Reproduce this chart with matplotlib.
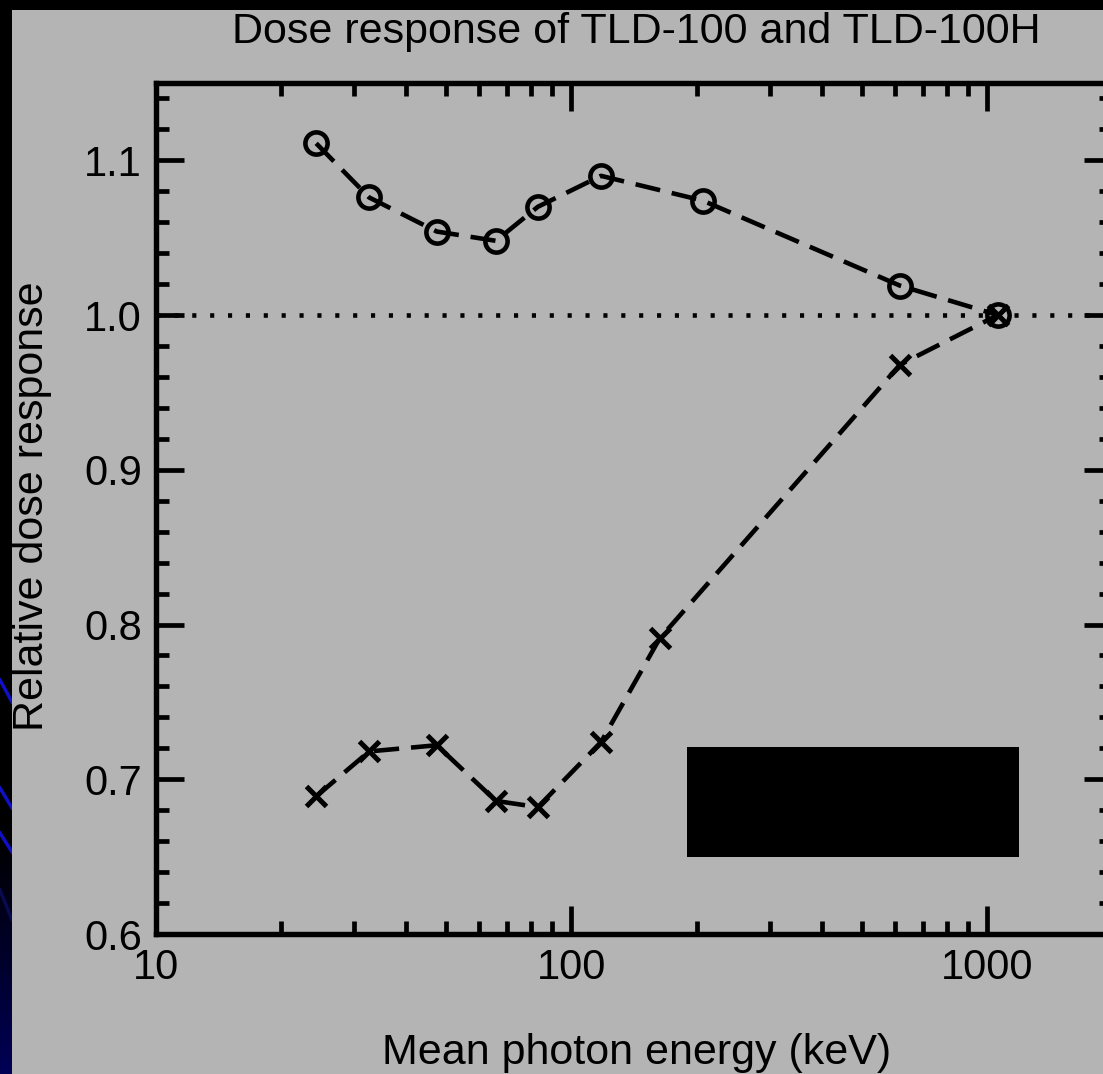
import matplotlib
matplotlib.use("Agg")
import matplotlib.pyplot as plt
import numpy as np
from matplotlib.patches import Rectangle
from matplotlib.ticker import FixedLocator, FixedFormatter, MultipleLocator, LogLocator, NullFormatter

# ---------------- data ----------------
title = "Dose response of TLD-100 and TLD-100H"
xlabel = "Mean photon energy (keV)"
ylabel = "Relative dose response"

energy_100h = [24.3, 32.6, 47.4, 65.8, 83.0, 117.8, 207.0, 618.0, 1062.0]
resp_100h = [1.111, 1.076, 1.054, 1.048, 1.070, 1.090, 1.074, 1.019, 1.000]

energy_100 = [24.3, 32.6, 47.4, 65.8, 83.0, 117.8, 163.0, 618.0, 1062.0]
resp_100 = [0.689, 0.718, 0.722, 0.686, 0.682, 0.724, 0.791, 0.968, 1.000]

reference_level = 1.0

xticks = [10, 100, 1000]
xticklabels = ["10", "100", "1000"]
yticks = [0.6, 0.7, 0.8, 0.9, 1.0, 1.1]
yticklabels = ["0.6", "0.7", "0.8", "0.9", "1.0", "1.1"]

# ---------------- style ----------------
W, H, DPI = 1103, 1074, 100
GRAY = "#b4b4b4"
FONT = "Liberation Sans"
FS = 31
TFS = 30

plt.rcParams["font.family"] = [FONT, "DejaVu Sans"]

fig = plt.figure(figsize=(W / DPI, H / DPI), dpi=DPI, facecolor="black")

# gray slide panel (as a background axes so it sits underneath)
bg = fig.add_axes([12 / W, 0, 1 - 12 / W, 1 - 10 / H], zorder=-10)
bg.set_facecolor(GRAY)
bg.set_xticks([])
bg.set_yticks([])
for s in bg.spines.values():
    s.set_visible(False)

# left strip: dark gradient + blue decorative lines
strip = fig.add_axes([0, 0, 12 / W, 1 - 10 / H], zorder=-9)
grad = np.zeros((200, 2, 3))
t = np.linspace(0, 1, 200)[:, None]
grad[:, :, 2] = np.clip((t - 0.78) / 0.22, 0, 1) * 0.33
strip.imshow(grad, aspect="auto", extent=[0, 12, 1064, 0], origin="upper")
for (y0, y1, c) in [(670, 692, "#1010c8"), (778, 798, "#1010c8"),
                    (823, 842, "#1010c8"), (880, 910, "#0a0a50")]:
    strip.plot([0, 12], [y0, y1], color=c, lw=2.5)
strip.set_xlim(0, 12)
strip.set_ylim(1064, 0)
strip.axis("off")

# main axes
ax = fig.add_axes([156 / W, (H - 934) / H, 956 / W, 851 / H], zorder=1)
ax.set_facecolor("none")
ax.set_xscale("log")
ax.set_xlim(10, 2000)
ax.set_ylim(0.6, 1.15)

LW = 3.3
# reference dotted line
ax.axhline(reference_level, color="black", lw=LW, linestyle=(0, (0.9, 3.0)),
           dash_capstyle="butt", zorder=2)

dash = (0, (5.5, 2.6))
ax.plot(energy_100h, resp_100h, color="black", lw=LW, linestyle=dash,
        marker="o", markersize=16, markerfacecolor="none",
        markeredgewidth=3.3, markeredgecolor="black", zorder=3)
ax.plot(energy_100, resp_100, color="black", lw=LW, linestyle=dash,
        marker="x", markersize=14.5, markeredgewidth=3.6,
        markeredgecolor="black", zorder=3)

# legend box (rendered black in the original)
ax.add_patch(Rectangle((0.5554, 0.0905), 0.3473, 0.1293, transform=ax.transAxes,
                       facecolor="black", edgecolor="none", zorder=4))

# ticks
ax.xaxis.set_major_locator(FixedLocator(xticks))
ax.xaxis.set_major_formatter(FixedFormatter(xticklabels))
ax.xaxis.set_minor_locator(LogLocator(base=10, subs=np.arange(2, 10)))
ax.xaxis.set_minor_formatter(NullFormatter())
ax.yaxis.set_major_locator(FixedLocator(yticks))
ax.yaxis.set_major_formatter(FixedFormatter(yticklabels))
ax.yaxis.set_minor_locator(MultipleLocator(0.02))

ax.tick_params(which="both", direction="in", top=True, right=True,
               color="black", width=3.4)
ax.tick_params(which="major", length=20, pad=10, labelsize=TFS,
               labelcolor="black")
ax.tick_params(which="minor", length=9.4)

for s in ax.spines.values():
    s.set_linewidth(3.9)
    s.set_color("black")

# texts
fig.text(636 / W, 1 - 43 / H, title, ha="center", va="baseline",
         fontsize=FS, color="black")
fig.text(637 / W, 1 - 1064 / H, xlabel, ha="center", va="baseline",
         fontsize=FS, color="black")
fig.text(43 / W, 1 - 506 / H, ylabel, ha="center", va="baseline",
         rotation=90, rotation_mode="anchor", fontsize=FS, color="black")

fig.savefig("out.png", dpi=DPI, facecolor=fig.get_facecolor())
